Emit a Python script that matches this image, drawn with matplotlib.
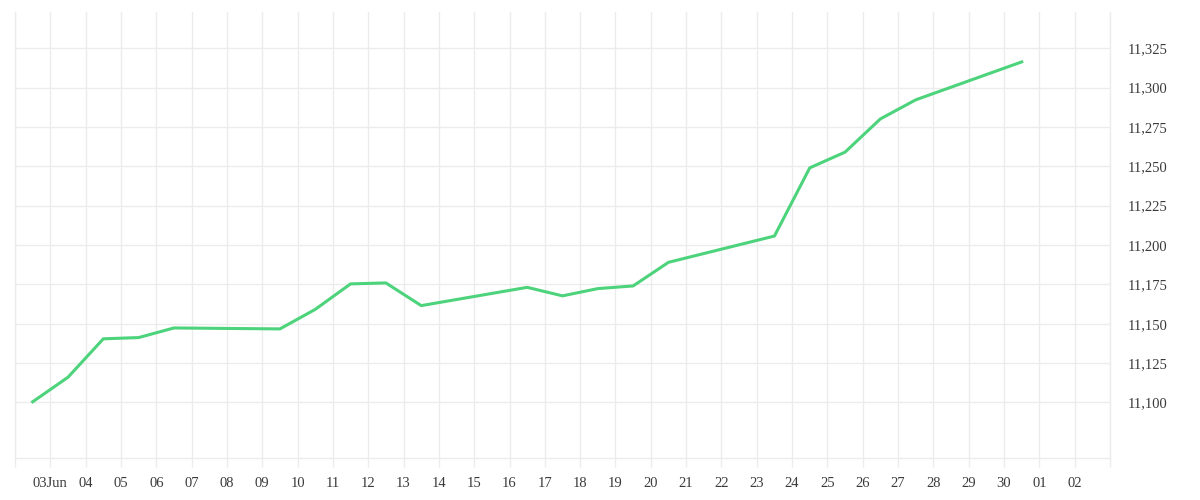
import matplotlib
matplotlib.use("Agg")
import matplotlib.pyplot as plt
from matplotlib.ticker import FuncFormatter
import pandas as pd

# closing values (business days only, weekends skipped)
dates = pd.to_datetime([
    "2025-06-02", "2025-06-03", "2025-06-04", "2025-06-05", "2025-06-06",
    "2025-06-09", "2025-06-10", "2025-06-11", "2025-06-12", "2025-06-13",
    "2025-06-16", "2025-06-17", "2025-06-18", "2025-06-19", "2025-06-20",
    "2025-06-23", "2025-06-24", "2025-06-25", "2025-06-26", "2025-06-27",
    "2025-06-30",
])
values = [
    11100.4, 11116.0, 11140.4, 11141.2, 11147.3,
    11146.7, 11159.1, 11175.3, 11175.9, 11161.5,
    11173.1, 11167.7, 11172.3, 11174.0, 11189.0,
    11205.7, 11249.0, 11259.0, 11280.1, 11292.2,
    11316.3,
]
ytick_values = list(range(11100, 11326, 25))
xtick_days = pd.date_range("2025-06-02", "2025-07-03", freq="D")
xtick_labels = [""] + ["03Jun"] + [d.strftime("%d") for d in xtick_days[2:-1]] + [""]

line_color = "#4cd37b"
grid_color = "#ececec"
text_color = "#3a3a3a"

plt.rcParams["font.family"] = ["Liberation Serif", "DejaVu Serif"]

fig = plt.figure(figsize=(12, 5), dpi=100)
ax = fig.add_axes([15 / 1200, 42 / 500, 1095 / 1200, 446 / 500])

# points sit in the middle of their day column
ax.plot(dates + pd.Timedelta(hours=12), values, color=line_color, lw=2.2)

ax.set_xlim(xtick_days[0], xtick_days[-1])
ax.set_ylim(11064.7, 11348.0)

ax.set_xticks(xtick_days)
ax.set_xticklabels(xtick_labels)
ax.set_yticks(ytick_values)
ax.yaxis.set_major_formatter(FuncFormatter(lambda v, p: f"{v:,.0f}"))
ax.yaxis.tick_right()

ax.grid(True, color=grid_color, lw=1)
ax.set_axisbelow(True)
ax.tick_params(axis="both", labelsize=10.5, labelcolor=text_color)
ax.tick_params(axis="x", length=6.5, width=1, color=grid_color, pad=7.5)
ax.tick_params(axis="y", length=0, pad=13)

ax.spines["top"].set_visible(False)
for side in ["left", "right", "bottom"]:
    ax.spines[side].set_color(grid_color)
    ax.spines[side].set_linewidth(1)

fig.savefig("out.png", dpi=100, facecolor="white")
